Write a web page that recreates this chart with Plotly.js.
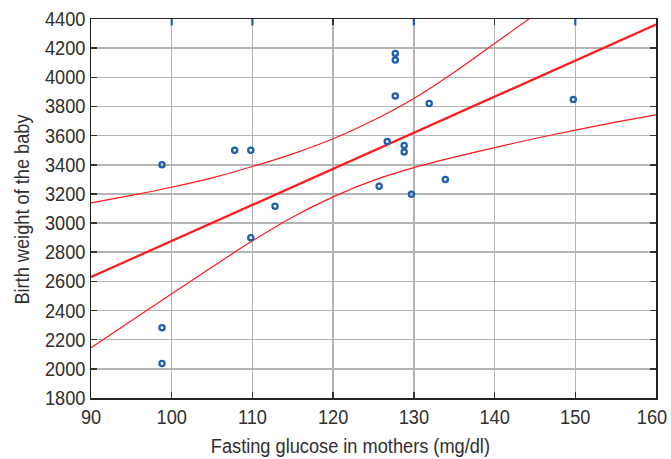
<!DOCTYPE html>
<html>
<head>
<meta charset="utf-8">
<script src="https://cdn.plot.ly/plotly-3.0.1.min.js"></script>
<style>html,body{margin:0;padding:0;background:#fff;}#chart{width:671px;height:459px;}</style>
</head>
<body>
<div id="chart"></div>
<script>
// Observed data points
const glucose = [98.8, 98.8, 98.8, 107.8, 109.8, 109.8, 112.8, 125.7, 126.7, 127.7, 127.7, 127.7, 128.8, 128.8, 129.7, 131.9, 133.9, 149.75];
const birthWeight = [3400, 2282, 2037, 3500, 3500, 2900, 3115, 3253, 3559, 4164, 4118, 3872, 3533, 3487, 3198, 3820, 3299, 3847];

// Fitted regression line
const fitX = [90, 160];
const fitY = [2630, 4362];

// Confidence band
const upperX = [90, 95, 100, 105, 110, 115, 120, 125, 130, 135, 140, 145];
const upperY = [3138, 3190, 3246, 3310, 3388, 3475, 3578, 3705, 3855, 4035, 4232, 4430];
const lowerX = [90, 95, 100, 105, 110, 115, 120, 125, 130, 135, 140, 145, 150, 155, 160];
const lowerY = [2145, 2330, 2515, 2698, 2878, 3042, 3180, 3293, 3380, 3452, 3518, 3580, 3638, 3692, 3743];

// Axis ticks and texts
const xTicks = [90, 100, 110, 120, 130, 140, 150, 160];
const yTicks = [1800, 2000, 2200, 2400, 2600, 2800, 3000, 3200, 3400, 3600, 3800, 4000, 4200, 4400];
const topBlueTicks = [100, 110, 130, 150];
const xTitle = 'Fasting glucose in mothers (mg/dl)';
const yTitle = 'Birth weight of the baby';

const FONT = "'Liberation Sans', Arial, sans-serif";
const TXT = '#303030';
const RED = '#ff1a1a';
const BLUE = '#1f5fb0';

const traces = [
  {x: upperX, y: upperY, mode: 'lines', line: {color: RED, width: 1.2, shape: 'spline', smoothing: 0.8}, hoverinfo: 'skip'},
  {x: lowerX, y: lowerY, mode: 'lines', line: {color: RED, width: 1.2, shape: 'spline', smoothing: 0.8}, hoverinfo: 'skip'},
  {x: fitX, y: fitY, mode: 'lines', line: {color: RED, width: 2.2}},
  {x: glucose, y: birthWeight, mode: 'markers',
   marker: {symbol: 'circle-open', size: 5.2, color: BLUE, line: {width: 2.3, color: BLUE}}}
];

const shapes = topBlueTicks.map(v => ({
  type: 'line', xref: 'x', yref: 'paper', x0: v, x1: v, y0: 1, y1: 0.983,
  line: {color: BLUE, width: 2.2}, layer: 'above'
}));

const axisCommon = {
  showline: true, linecolor: '#222', linewidth: 1.5, mirror: 'ticks',
  ticks: 'inside', ticklen: 6, tickwidth: 1.5, tickcolor: '#333',
  showgrid: true, gridcolor: '#b4b4b4', gridwidth: 1.5, zeroline: false,
  ticklabeloverflow: 'allow',
  tickfont: {family: FONT, size: 20, color: TXT}
};

const layout = {
  width: 671, height: 459,
  margin: {l: 91, r: 15, t: 19, b: 61},
  paper_bgcolor: '#fff', plot_bgcolor: '#fff',
  showlegend: false,
  font: {family: FONT, color: TXT},
  shapes: shapes,
  xaxis: Object.assign({}, axisCommon, {range: [90, 160], tickvals: xTicks, ticktext: xTicks.map(String)}),
  yaxis: Object.assign({}, axisCommon, {range: [1800, 4400], tickvals: yTicks, ticktext: yTicks.map(String)}),
  annotations: [
    {text: xTitle, xref: 'paper', yref: 'paper', x: 0.460, y: -0.1266, xanchor: 'center', yanchor: 'middle',
     showarrow: false, font: {family: FONT, size: 20, color: TXT}},
    {text: yTitle, xref: 'paper', yref: 'paper', x: -0.1221, y: 0.496, xanchor: 'center', yanchor: 'middle',
     textangle: -90, showarrow: false, font: {family: FONT, size: 20, color: TXT}}
  ]
};

function condense(selector, ratio) {
  document.querySelectorAll(selector).forEach(t => {
    const len = t.getComputedTextLength();
    if (len > 0) {
      t.setAttribute('textLength', (len * ratio).toFixed(2));
      t.setAttribute('lengthAdjust', 'spacingAndGlyphs');
    }
  });
}

Plotly.newPlot('chart', traces, layout, {displayModeBar: false, staticPlot: true}).then(() => {
  condense('#chart .xtick text, #chart .ytick text', 0.91);
  condense('#chart .annotation-text', 0.91);
  // keep the last x tick label fully inside the page
  const xl = document.querySelectorAll('#chart .xtick text');
  if (xl.length) xl[xl.length - 1].setAttribute('dx', '-4');
});
</script>
</body>
</html>
